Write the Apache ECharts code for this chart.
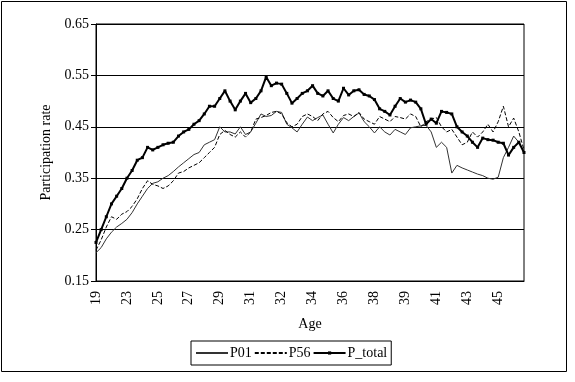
<!DOCTYPE html>
<html>
<head>
<meta charset="utf-8">
<script src="https://cdn.jsdelivr.net/npm/echarts@6/dist/echarts.min.js"></script>
<style>
  html, body {margin: 0; padding: 0; background: #fff;}
  #chart {width: 575px; height: 382px;}
</style>
</head>
<body>
<div id="chart"></div>
<script>
const fontFamily = '"Liberation Serif", "Times New Roman", serif'
const textColor = '#000'

// age labels shown on the axis, one every 6 points
const ageLabels = ['19', '23', '25', '27', '29', '31', '32', '34', '36', '38', '39', '41', '43', '45']
const labelStep = 6
const pointCount = 84

const p01 = [
  0.205, 0.215, 0.232, 0.245, 0.255, 0.262, 0.27, 0.283, 0.30, 0.315,
  0.33, 0.34, 0.343, 0.35, 0.355, 0.363, 0.372, 0.38, 0.388, 0.396,
  0.40, 0.415, 0.42, 0.425, 0.45, 0.44, 0.44, 0.436, 0.45, 0.435,
  0.44, 0.457, 0.475, 0.47, 0.472, 0.48, 0.478, 0.455, 0.448, 0.44,
  0.455, 0.469, 0.462, 0.468, 0.473, 0.455, 0.438, 0.455, 0.468, 0.462,
  0.47, 0.477, 0.46, 0.45, 0.438, 0.45, 0.44, 0.434, 0.445, 0.44,
  0.435, 0.448, 0.45, 0.452, 0.453, 0.44, 0.41, 0.42, 0.41, 0.36,
  0.375, 0.37, 0.366, 0.362, 0.358, 0.355, 0.35, 0.348, 0.352, 0.39,
  0.41, 0.432, 0.42, 0.40,
]

const p56 = [
  0.21, 0.23, 0.255, 0.275, 0.27, 0.28, 0.285, 0.295, 0.31, 0.33,
  0.345, 0.338, 0.335, 0.33, 0.335, 0.345, 0.36, 0.363, 0.37, 0.375,
  0.38, 0.39, 0.40, 0.41, 0.435, 0.443, 0.435, 0.43, 0.44, 0.43,
  0.44, 0.465, 0.468, 0.472, 0.478, 0.48, 0.475, 0.458, 0.45, 0.455,
  0.47, 0.475, 0.47, 0.462, 0.475, 0.48, 0.468, 0.46, 0.472, 0.475,
  0.47, 0.478, 0.465, 0.46, 0.455, 0.47, 0.465, 0.46, 0.47, 0.468,
  0.465, 0.475, 0.47, 0.45, 0.46, 0.465, 0.468, 0.45, 0.44, 0.445,
  0.43, 0.415, 0.42, 0.44, 0.43, 0.44, 0.455, 0.44, 0.46, 0.49,
  0.45, 0.467, 0.44, 0.405,
]

const pTotal = [
  0.225, 0.25, 0.275, 0.30, 0.315, 0.33, 0.35, 0.365, 0.385, 0.39,
  0.41, 0.405, 0.41, 0.415, 0.418, 0.42, 0.432, 0.44, 0.445, 0.455,
  0.462, 0.475, 0.49, 0.49, 0.505, 0.52, 0.50, 0.483, 0.50, 0.515,
  0.497, 0.505, 0.52, 0.547, 0.53, 0.535, 0.533, 0.515, 0.496, 0.505,
  0.515, 0.52, 0.53, 0.515, 0.51, 0.52, 0.505, 0.50, 0.525, 0.512,
  0.52, 0.522, 0.513, 0.51, 0.503, 0.485, 0.48, 0.473, 0.49, 0.505,
  0.498, 0.502, 0.498, 0.485, 0.455, 0.465, 0.457, 0.48, 0.478, 0.475,
  0.45, 0.44, 0.432, 0.42, 0.41, 0.428, 0.425, 0.424, 0.42, 0.418,
  0.395, 0.41, 0.42, 0.40,
]

const categories = []
for (let i = 0; i < pointCount; i++) {
  categories.push(i % labelStep === 0 ? ageLabels[i / labelStep] : '')
}

const chart = echarts.init(document.getElementById('chart'), null, {renderer: 'canvas'})

// legend entries for the plain lines: hide the marker, keep the line
const noMarker = {color: 'rgba(0,0,0,0)', borderWidth: 0, opacity: 0}

chart.setOption({
  backgroundColor: '#fff',
  animation: false,
  textStyle: {fontFamily, color: textColor},
  graphic: [{
    type: 'rect',
    shape: {x: 1.5, y: 1.5, width: 565, height: 370},
    style: {fill: null, stroke: '#000', lineWidth: 1},
    silent: true,
  }],
  grid: {
    left: 96,
    right: 51,
    top: 24,
    bottom: 101,
    show: true,
    borderColor: '#000',
    borderWidth: 1,
    containLabel: false,
  },
  legend: {
    left: 191,
    top: 341,
    padding: [5, 4, 5, 4],
    borderColor: '#000',
    borderWidth: 1,
    itemWidth: 32,
    itemHeight: 4,
    itemGap: 2,
    textStyle: {fontFamily, fontSize: 14, color: textColor, padding: [0, 0, 0, -3]},
    data: [
      {name: 'P01', itemStyle: noMarker},
      {name: 'P56', itemStyle: noMarker},
      {name: 'P_total'},
    ],
  },
  xAxis: {
    type: 'category',
    data: categories,
    boundaryGap: false,
    name: 'Age',
    nameLocation: 'middle',
    nameGap: 36,
    nameTextStyle: {fontFamily, fontSize: 14, color: textColor},
    axisLine: {lineStyle: {color: '#000', width: 1}},
    axisTick: {show: false},
    axisLabel: {
      interval: labelStep - 1,
      rotate: 90,
      margin: 10,
      fontFamily,
      fontSize: 14,
      color: textColor,
    },
    splitLine: {show: false},
  },
  yAxis: {
    type: 'value',
    min: 0.15,
    max: 0.65,
    interval: 0.1,
    name: 'Participation rate',
    nameLocation: 'middle',
    nameGap: 34,
    nameTextStyle: {fontFamily, fontSize: 14, color: textColor},
    axisLine: {show: true, lineStyle: {color: '#000', width: 1}},
    axisTick: {show: true, length: 5, lineStyle: {color: '#000'}},
    axisLabel: {
      margin: 7,
      fontFamily,
      fontSize: 14,
      color: textColor,
      formatter: v => v.toFixed(2),
    },
    splitLine: {show: true, lineStyle: {color: '#000', width: 1}},
  },
  series: [{
    name: 'P01',
    type: 'line',
    data: p01,
    symbol: 'none',
    lineStyle: {color: '#333', width: 1},
    itemStyle: {color: '#333'},
  }, {
    name: 'P56',
    type: 'line',
    data: p56,
    symbol: 'none',
    lineStyle: {color: '#000', width: 1, type: [4, 2]},
    itemStyle: {color: '#000'},
  }, {
    name: 'P_total',
    type: 'line',
    data: pTotal,
    symbol: 'rect',
    symbolSize: 3,
    showAllSymbol: true,
    lineStyle: {color: '#000', width: 2},
    itemStyle: {color: '#000'},
  }],
})
</script>
</body>
</html>
